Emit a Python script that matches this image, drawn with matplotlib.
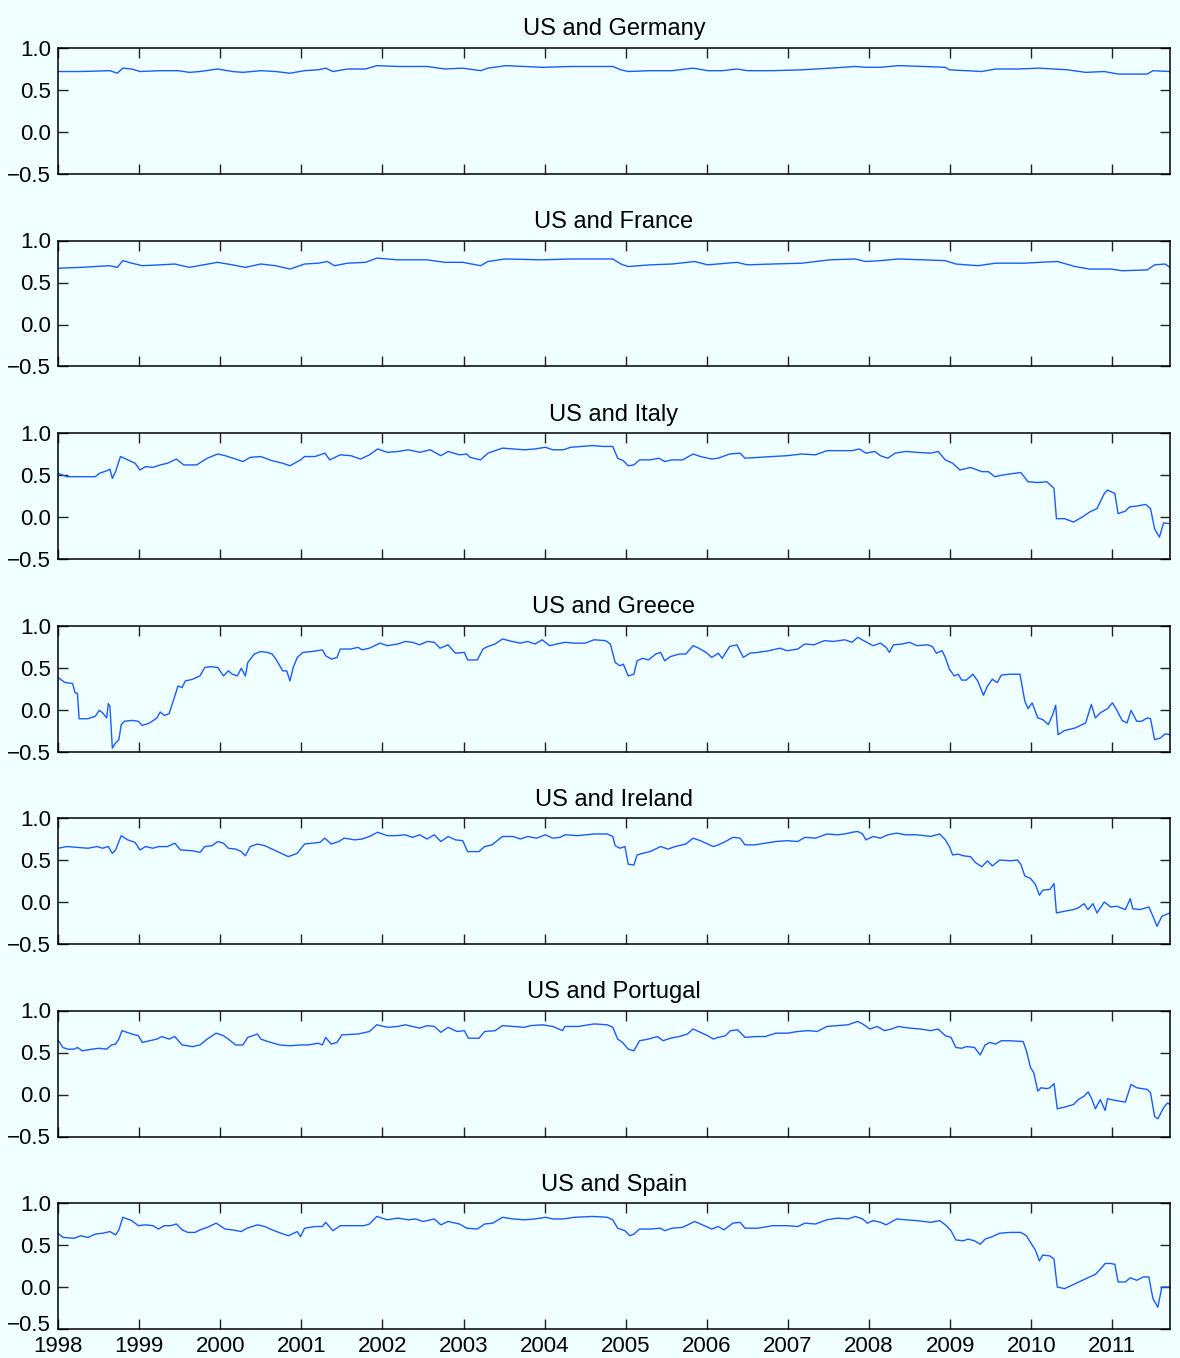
import matplotlib.pyplot as plt
from matplotlib.ticker import FuncFormatter
from matplotlib.transforms import ScaledTranslation

plt.rcParams['font.family'] = ['Liberation Sans', 'DejaVu Sans']

# Weekly correlations with the US; times are years after START
START = 1998
END = 2011.71
year_ticks = list(range(1998, 2012))
y_ticks = [-0.5, 0.0, 0.5, 1.0]

germany_t = [0.00, 0.28, 0.64, 0.73, 0.80, 0.91, 1.01, 1.26, 1.48, 1.62,
             1.75, 1.97, 2.15, 2.28, 2.50, 2.68, 2.86, 3.04, 3.21, 3.30,
             3.39, 3.57, 3.79, 3.93, 4.19, 4.55, 4.77, 4.99, 5.21, 5.30,
             5.52, 5.97, 6.32, 6.84, 6.94, 7.03, 7.30, 7.57, 7.83, 8.01,
             8.19, 8.37, 8.50, 8.81, 9.17, 9.52, 9.83, 9.96, 10.14, 10.36,
             10.67, 10.94, 10.99, 11.20, 11.39, 11.56, 11.83, 12.10, 12.28, 12.45,
             12.67, 12.90, 13.07, 13.43, 13.50, 13.71]
germany_v = [0.72, 0.72, 0.73, 0.70, 0.76, 0.75, 0.72, 0.73, 0.73, 0.71,
             0.72, 0.75, 0.72, 0.71, 0.73, 0.72, 0.70, 0.73, 0.74, 0.76,
             0.72, 0.75, 0.75, 0.79, 0.78, 0.78, 0.75, 0.76, 0.73, 0.76,
             0.79, 0.77, 0.78, 0.78, 0.74, 0.72, 0.73, 0.73, 0.76, 0.73,
             0.73, 0.75, 0.73, 0.73, 0.74, 0.76, 0.78, 0.77, 0.77, 0.79,
             0.78, 0.77, 0.74, 0.73, 0.72, 0.75, 0.75, 0.76, 0.75, 0.74,
             0.71, 0.72, 0.69, 0.69, 0.73, 0.72]

france_t = [0.00, 0.28, 0.64, 0.73, 0.80, 0.91, 1.04, 1.26, 1.44, 1.62,
            1.79, 1.97, 2.15, 2.31, 2.50, 2.68, 2.86, 3.04, 3.21, 3.32,
            3.41, 3.57, 3.79, 3.93, 4.19, 4.55, 4.77, 4.99, 5.21, 5.30,
            5.51, 5.97, 6.32, 6.84, 6.94, 7.03, 7.30, 7.57, 7.85, 8.01,
            8.37, 8.50, 8.81, 9.17, 9.52, 9.83, 9.96, 10.14, 10.36, 10.67,
            10.94, 11.07, 11.34, 11.56, 11.92, 12.10, 12.32, 12.54, 12.72, 12.98,
            13.12, 13.43, 13.52, 13.65, 13.71]
france_v = [0.67, 0.68, 0.70, 0.68, 0.76, 0.73, 0.70, 0.71, 0.72, 0.68,
            0.71, 0.74, 0.71, 0.68, 0.72, 0.70, 0.66, 0.72, 0.73, 0.75,
            0.70, 0.73, 0.74, 0.79, 0.77, 0.77, 0.74, 0.74, 0.70, 0.75,
            0.78, 0.77, 0.78, 0.78, 0.72, 0.69, 0.71, 0.72, 0.75, 0.71,
            0.74, 0.71, 0.72, 0.73, 0.77, 0.78, 0.75, 0.76, 0.78, 0.77,
            0.76, 0.72, 0.70, 0.73, 0.73, 0.74, 0.75, 0.69, 0.66, 0.66,
            0.64, 0.65, 0.71, 0.72, 0.68]

italy_t = [0.00, 0.11, 0.46, 0.51, 0.60, 0.64, 0.67, 0.71, 0.77, 0.86,
           0.95, 1.01, 1.08, 1.17, 1.26, 1.35, 1.46, 1.55, 1.71, 1.84,
           1.97, 2.06, 2.19, 2.28, 2.37, 2.50, 2.64, 2.77, 2.86, 2.99,
           3.04, 3.17, 3.29, 3.35, 3.48, 3.61, 3.73, 3.84, 3.94, 4.06,
           4.19, 4.32, 4.46, 4.59, 4.72, 4.81, 4.95, 5.04, 5.08, 5.21,
           5.30, 5.48, 5.61, 5.75, 5.88, 6.01, 6.10, 6.23, 6.32, 6.46,
           6.59, 6.72, 6.84, 6.90, 6.97, 7.03, 7.10, 7.17, 7.30, 7.41,
           7.48, 7.57, 7.70, 7.83, 7.92, 8.06, 8.14, 8.28, 8.41, 8.47,
           8.63, 8.81, 8.99, 9.17, 9.34, 9.48, 9.65, 9.79, 9.88, 9.96,
           10.07, 10.14, 10.23, 10.32, 10.45, 10.59, 10.76, 10.85, 10.94, 11.03,
           11.12, 11.25, 11.39, 11.47, 11.55, 11.65, 11.87, 11.96, 12.08, 12.19,
           12.26, 12.28, 12.31, 12.41, 12.52, 12.63, 12.72, 12.81, 12.85, 12.90,
           12.94, 13.03, 13.07, 13.16, 13.21, 13.30, 13.41, 13.47, 13.52, 13.58,
           13.63, 13.71]
italy_v = [0.52, 0.48, 0.48, 0.52, 0.55, 0.57, 0.46, 0.54, 0.72, 0.68,
           0.64, 0.56, 0.60, 0.59, 0.62, 0.64, 0.69, 0.62, 0.62, 0.70,
           0.75, 0.73, 0.69, 0.66, 0.71, 0.72, 0.67, 0.64, 0.61, 0.68,
           0.72, 0.72, 0.76, 0.68, 0.74, 0.73, 0.69, 0.74, 0.81, 0.77,
           0.78, 0.80, 0.77, 0.80, 0.73, 0.78, 0.74, 0.75, 0.71, 0.68,
           0.76, 0.82, 0.81, 0.80, 0.81, 0.83, 0.80, 0.80, 0.83, 0.84,
           0.85, 0.84, 0.84, 0.70, 0.67, 0.61, 0.62, 0.68, 0.68, 0.70,
           0.66, 0.68, 0.68, 0.75, 0.72, 0.69, 0.70, 0.75, 0.76, 0.70,
           0.71, 0.72, 0.73, 0.75, 0.74, 0.79, 0.79, 0.79, 0.81, 0.76,
           0.78, 0.73, 0.70, 0.76, 0.78, 0.77, 0.76, 0.78, 0.68, 0.64,
           0.56, 0.59, 0.54, 0.54, 0.48, 0.50, 0.53, 0.42, 0.41, 0.42,
           0.36, 0.34, -0.02, -0.02, -0.06, 0.00, 0.06, 0.10, 0.18, 0.28,
           0.32, 0.28, 0.04, 0.07, 0.12, 0.13, 0.15, 0.10, -0.14, -0.24,
           -0.07, -0.08]

greece_t = [0.00, 0.09, 0.18, 0.21, 0.24, 0.26, 0.37, 0.46, 0.51, 0.55,
            0.60, 0.62, 0.64, 0.67, 0.71, 0.75, 0.78, 0.82, 0.91, 0.99,
            1.04, 1.13, 1.22, 1.26, 1.31, 1.37, 1.42, 1.48, 1.53, 1.57,
            1.66, 1.75, 1.81, 1.88, 1.97, 2.04, 2.10, 2.15, 2.21, 2.26,
            2.31, 2.34, 2.42, 2.50, 2.58, 2.64, 2.70, 2.77, 2.82, 2.86,
            2.90, 2.95, 3.02, 3.13, 3.26, 3.30, 3.37, 3.44, 3.48, 3.61,
            3.70, 3.75, 3.84, 3.97, 4.06, 4.19, 4.28, 4.37, 4.46, 4.55,
            4.64, 4.71, 4.81, 4.90, 5.01, 5.05, 5.17, 5.24, 5.30, 5.39,
            5.48, 5.60, 5.70, 5.79, 5.88, 5.97, 6.06, 6.15, 6.25, 6.37,
            6.50, 6.61, 6.75, 6.81, 6.87, 6.93, 6.97, 7.03, 7.10, 7.14,
            7.21, 7.28, 7.37, 7.43, 7.48, 7.55, 7.66, 7.74, 7.83, 7.90,
            7.99, 8.06, 8.14, 8.19, 8.28, 8.37, 8.45, 8.53, 8.63, 8.77,
            8.90, 8.99, 9.12, 9.21, 9.32, 9.45, 9.56, 9.70, 9.79, 9.86,
            9.95, 10.05, 10.14, 10.21, 10.25, 10.30, 10.41, 10.50, 10.59, 10.72,
            10.78, 10.83, 10.90, 10.94, 10.99, 11.05, 11.10, 11.14, 11.20, 11.28,
            11.34, 11.41, 11.46, 11.52, 11.58, 11.63, 11.74, 11.86, 11.92, 11.96,
            12.01, 12.08, 12.14, 12.21, 12.26, 12.30, 12.33, 12.41, 12.54, 12.67,
            12.74, 12.79, 12.85, 12.94, 13.00, 13.05, 13.12, 13.18, 13.23, 13.30,
            13.36, 13.43, 13.47, 13.52, 13.59, 13.65, 13.71]
greece_v = [0.38, 0.32, 0.31, 0.20, 0.19, -0.11, -0.11, -0.08, -0.01, -0.04,
            -0.10, 0.07, 0.04, -0.46, -0.40, -0.36, -0.18, -0.14, -0.13, -0.14,
            -0.19, -0.16, -0.10, -0.03, -0.07, -0.05, 0.10, 0.28, 0.26, 0.34,
            0.36, 0.40, 0.50, 0.51, 0.50, 0.40, 0.46, 0.42, 0.40, 0.49,
            0.40, 0.56, 0.66, 0.69, 0.68, 0.66, 0.58, 0.46, 0.46, 0.34,
            0.50, 0.62, 0.68, 0.69, 0.71, 0.64, 0.60, 0.62, 0.72, 0.72,
            0.74, 0.71, 0.73, 0.79, 0.76, 0.78, 0.81, 0.80, 0.77, 0.81,
            0.80, 0.73, 0.77, 0.67, 0.68, 0.59, 0.59, 0.72, 0.75, 0.78,
            0.84, 0.81, 0.79, 0.81, 0.78, 0.83, 0.76, 0.78, 0.80, 0.79,
            0.79, 0.83, 0.82, 0.78, 0.56, 0.52, 0.54, 0.40, 0.42, 0.58,
            0.61, 0.59, 0.66, 0.68, 0.58, 0.63, 0.66, 0.66, 0.76, 0.73,
            0.68, 0.62, 0.67, 0.61, 0.75, 0.77, 0.62, 0.67, 0.68, 0.70,
            0.73, 0.70, 0.72, 0.78, 0.77, 0.82, 0.81, 0.83, 0.80, 0.86,
            0.81, 0.76, 0.79, 0.74, 0.68, 0.77, 0.78, 0.80, 0.76, 0.77,
            0.75, 0.67, 0.70, 0.62, 0.48, 0.40, 0.42, 0.35, 0.35, 0.42,
            0.34, 0.17, 0.28, 0.36, 0.32, 0.41, 0.42, 0.42, 0.10, 0.01,
            0.08, -0.10, -0.12, -0.18, -0.07, 0.05, -0.30, -0.25, -0.22, -0.16,
            0.06, -0.10, -0.04, 0.01, 0.08, 0.00, -0.13, -0.16, -0.01, -0.14,
            -0.14, -0.10, -0.11, -0.36, -0.34, -0.29, -0.30]

ireland_t = [0.00, 0.11, 0.24, 0.37, 0.48, 0.55, 0.62, 0.67, 0.71, 0.78,
             0.86, 0.95, 1.01, 1.08, 1.17, 1.24, 1.35, 1.44, 1.51, 1.66,
             1.75, 1.81, 1.90, 1.97, 2.04, 2.10, 2.19, 2.26, 2.31, 2.37,
             2.46, 2.55, 2.64, 2.75, 2.84, 2.95, 2.99, 3.04, 3.14, 3.23,
             3.29, 3.37, 3.46, 3.53, 3.66, 3.75, 3.84, 3.94, 4.06, 4.17,
             4.28, 4.37, 4.46, 4.55, 4.64, 4.72, 4.81, 4.90, 4.99, 5.05,
             5.19, 5.26, 5.35, 5.48, 5.61, 5.70, 5.79, 5.90, 6.01, 6.10,
             6.19, 6.25, 6.41, 6.61, 6.77, 6.84, 6.87, 6.93, 6.99, 7.03,
             7.10, 7.14, 7.21, 7.30, 7.43, 7.52, 7.61, 7.74, 7.83, 7.92,
             8.01, 8.08, 8.14, 8.23, 8.32, 8.41, 8.47, 8.59, 8.72, 8.85,
             8.99, 9.12, 9.21, 9.34, 9.48, 9.61, 9.70, 9.79, 9.86, 9.92,
             9.96, 10.05, 10.14, 10.23, 10.34, 10.45, 10.59, 10.76, 10.87, 10.94,
             10.99, 11.03, 11.10, 11.16, 11.25, 11.31, 11.39, 11.46, 11.52, 11.61,
             11.74, 11.83, 11.87, 11.92, 11.99, 12.05, 12.10, 12.14, 12.23, 12.28,
             12.31, 12.41, 12.52, 12.58, 12.65, 12.70, 12.76, 12.81, 12.90, 12.98,
             13.05, 13.16, 13.22, 13.25, 13.34, 13.45, 13.50, 13.55, 13.61, 13.71]
ireland_v = [0.64, 0.66, 0.65, 0.64, 0.66, 0.64, 0.66, 0.58, 0.62, 0.79,
             0.74, 0.71, 0.62, 0.66, 0.64, 0.66, 0.66, 0.70, 0.62, 0.61,
             0.59, 0.66, 0.67, 0.72, 0.70, 0.64, 0.63, 0.60, 0.55, 0.66,
             0.69, 0.67, 0.63, 0.58, 0.54, 0.58, 0.63, 0.69, 0.70, 0.71,
             0.76, 0.69, 0.72, 0.76, 0.74, 0.75, 0.78, 0.83, 0.79, 0.79,
             0.80, 0.77, 0.80, 0.75, 0.80, 0.72, 0.78, 0.74, 0.73, 0.60,
             0.60, 0.66, 0.68, 0.78, 0.78, 0.75, 0.78, 0.76, 0.80, 0.76,
             0.77, 0.80, 0.79, 0.81, 0.81, 0.78, 0.67, 0.64, 0.66, 0.45,
             0.44, 0.56, 0.58, 0.60, 0.66, 0.63, 0.66, 0.69, 0.76, 0.73,
             0.69, 0.66, 0.68, 0.72, 0.77, 0.76, 0.68, 0.68, 0.70, 0.72,
             0.73, 0.72, 0.77, 0.76, 0.81, 0.80, 0.81, 0.83, 0.84, 0.81,
             0.74, 0.78, 0.76, 0.80, 0.82, 0.80, 0.80, 0.78, 0.81, 0.74,
             0.66, 0.56, 0.57, 0.55, 0.54, 0.47, 0.42, 0.49, 0.43, 0.50,
             0.49, 0.50, 0.45, 0.31, 0.28, 0.21, 0.08, 0.14, 0.15, 0.22,
             -0.13, -0.11, -0.09, -0.07, -0.02, -0.09, -0.02, -0.13, 0.00, -0.06,
             -0.05, -0.09, 0.04, -0.08, -0.09, -0.06, -0.17, -0.29, -0.17, -0.13]

portugal_t = [0.00, 0.06, 0.12, 0.20, 0.24, 0.30, 0.42, 0.51, 0.60, 0.66,
              0.71, 0.75, 0.79, 0.91, 0.99, 1.04, 1.13, 1.22, 1.28, 1.37,
              1.44, 1.53, 1.66, 1.75, 1.84, 1.95, 2.04, 2.10, 2.19, 2.28,
              2.34, 2.46, 2.50, 2.59, 2.73, 2.86, 2.99, 3.08, 3.21, 3.26,
              3.30, 3.37, 3.44, 3.50, 3.70, 3.84, 3.93, 4.06, 4.19, 4.28,
              4.37, 4.46, 4.55, 4.64, 4.72, 4.81, 4.92, 5.01, 5.06, 5.19,
              5.26, 5.39, 5.48, 5.61, 5.75, 5.83, 5.97, 6.10, 6.22, 6.25,
              6.41, 6.61, 6.77, 6.84, 6.90, 6.96, 7.03, 7.10, 7.17, 7.28,
              7.39, 7.46, 7.55, 7.66, 7.76, 7.83, 7.92, 8.01, 8.08, 8.14,
              8.23, 8.29, 8.38, 8.47, 8.61, 8.72, 8.85, 8.99, 9.12, 9.25,
              9.36, 9.48, 9.61, 9.74, 9.86, 9.92, 10.01, 10.10, 10.19, 10.28,
              10.36, 10.50, 10.63, 10.76, 10.85, 10.94, 11.01, 11.07, 11.14, 11.20,
              11.30, 11.37, 11.43, 11.49, 11.56, 11.63, 11.74, 11.90, 11.94, 11.99,
              12.03, 12.08, 12.12, 12.19, 12.23, 12.28, 12.32, 12.41, 12.52, 12.58,
              12.65, 12.70, 12.74, 12.79, 12.85, 12.91, 12.94, 13.03, 13.16, 13.23,
              13.30, 13.43, 13.47, 13.52, 13.56, 13.63, 13.68, 13.71]
portugal_v = [0.65, 0.56, 0.54, 0.54, 0.56, 0.52, 0.54, 0.55, 0.54, 0.59,
              0.60, 0.66, 0.76, 0.72, 0.70, 0.62, 0.64, 0.66, 0.69, 0.66,
              0.69, 0.59, 0.57, 0.59, 0.66, 0.73, 0.70, 0.66, 0.59, 0.59,
              0.68, 0.72, 0.66, 0.63, 0.59, 0.58, 0.59, 0.59, 0.61, 0.59,
              0.68, 0.60, 0.62, 0.71, 0.72, 0.75, 0.83, 0.80, 0.81, 0.83,
              0.81, 0.79, 0.82, 0.81, 0.74, 0.80, 0.75, 0.76, 0.67, 0.67,
              0.75, 0.76, 0.82, 0.81, 0.80, 0.82, 0.83, 0.81, 0.76, 0.81,
              0.81, 0.84, 0.83, 0.80, 0.66, 0.62, 0.54, 0.52, 0.64, 0.66,
              0.69, 0.64, 0.67, 0.69, 0.72, 0.78, 0.74, 0.70, 0.66, 0.68,
              0.70, 0.76, 0.77, 0.68, 0.69, 0.69, 0.73, 0.73, 0.75, 0.76,
              0.75, 0.81, 0.82, 0.83, 0.87, 0.84, 0.78, 0.81, 0.76, 0.78,
              0.81, 0.79, 0.78, 0.76, 0.78, 0.70, 0.68, 0.56, 0.55, 0.57,
              0.56, 0.47, 0.59, 0.62, 0.60, 0.64, 0.64, 0.63, 0.52, 0.32,
              0.26, 0.04, 0.08, 0.07, 0.08, 0.13, -0.17, -0.15, -0.12, -0.06,
              -0.02, 0.03, -0.04, -0.17, -0.06, -0.19, -0.05, -0.07, -0.09, 0.12,
              0.08, 0.06, 0.02, -0.26, -0.29, -0.16, -0.10, -0.12]

spain_t = [0.00, 0.06, 0.20, 0.28, 0.37, 0.46, 0.55, 0.64, 0.71, 0.75,
           0.80, 0.91, 0.99, 1.08, 1.17, 1.24, 1.31, 1.39, 1.46, 1.53,
           1.60, 1.69, 1.75, 1.84, 1.95, 2.06, 2.15, 2.26, 2.33, 2.46,
           2.55, 2.64, 2.75, 2.84, 2.95, 2.99, 3.04, 3.17, 3.26, 3.30,
           3.39, 3.48, 3.66, 3.77, 3.84, 3.93, 4.06, 4.19, 4.32, 4.41,
           4.50, 4.64, 4.72, 4.81, 4.95, 5.04, 5.17, 5.26, 5.36, 5.48,
           5.61, 5.75, 5.88, 6.01, 6.10, 6.23, 6.37, 6.59, 6.77, 6.84,
           6.90, 6.99, 7.05, 7.10, 7.17, 7.30, 7.43, 7.48, 7.57, 7.70,
           7.85, 7.97, 8.06, 8.14, 8.21, 8.32, 8.41, 8.47, 8.63, 8.81,
           8.99, 9.12, 9.21, 9.34, 9.48, 9.61, 9.74, 9.83, 9.92, 9.98,
           10.05, 10.14, 10.21, 10.34, 10.45, 10.59, 10.76, 10.87, 10.94, 11.01,
           11.07, 11.16, 11.22, 11.30, 11.37, 11.43, 11.52, 11.61, 11.74, 11.87,
           11.94, 12.01, 12.05, 12.10, 12.14, 12.23, 12.28, 12.32, 12.41, 12.52,
           12.63, 12.72, 12.79, 12.85, 12.91, 12.98, 13.03, 13.07, 13.16, 13.22,
           13.30, 13.38, 13.45, 13.47, 13.50, 13.56, 13.61, 13.71]
spain_v = [0.64, 0.59, 0.58, 0.61, 0.59, 0.63, 0.64, 0.66, 0.62, 0.68,
           0.83, 0.79, 0.73, 0.74, 0.73, 0.69, 0.73, 0.73, 0.75, 0.68,
           0.65, 0.65, 0.68, 0.71, 0.76, 0.69, 0.68, 0.66, 0.70, 0.74,
           0.72, 0.68, 0.64, 0.61, 0.66, 0.60, 0.70, 0.72, 0.72, 0.77,
           0.67, 0.73, 0.73, 0.73, 0.75, 0.84, 0.80, 0.82, 0.80, 0.81,
           0.78, 0.81, 0.74, 0.78, 0.75, 0.70, 0.69, 0.75, 0.76, 0.83,
           0.81, 0.80, 0.81, 0.83, 0.81, 0.81, 0.83, 0.84, 0.83, 0.80,
           0.70, 0.67, 0.61, 0.63, 0.69, 0.69, 0.70, 0.67, 0.70, 0.71,
           0.78, 0.73, 0.69, 0.72, 0.68, 0.76, 0.77, 0.70, 0.70, 0.73,
           0.73, 0.72, 0.76, 0.75, 0.80, 0.82, 0.81, 0.84, 0.81, 0.76,
           0.79, 0.77, 0.74, 0.81, 0.80, 0.79, 0.77, 0.79, 0.74, 0.67,
           0.56, 0.55, 0.57, 0.55, 0.51, 0.57, 0.60, 0.64, 0.65, 0.65,
           0.61, 0.50, 0.44, 0.31, 0.38, 0.37, 0.33, 0.00, -0.02, 0.03,
           0.08, 0.12, 0.15, 0.21, 0.28, 0.28, 0.27, 0.06, 0.06, 0.11,
           0.08, 0.12, 0.12, 0.01, -0.14, -0.24, 0.00, 0.00]

panels = [
    ("US and Germany", germany_t, germany_v),
    ("US and France", france_t, france_v),
    ("US and Italy", italy_t, italy_v),
    ("US and Greece", greece_t, greece_v),
    ("US and Ireland", ireland_t, ireland_v),
    ("US and Portugal", portugal_t, portugal_v),
    ("US and Spain", spain_t, spain_v),
]

BG = '#f0ffff'
LINE = '#1a5cff'
W, H = 1180, 1358

fig = plt.figure(figsize=(W / 100, H / 100), dpi=100, facecolor=BG)
minus = FuncFormatter(lambda y, _: f"{y:.1f}".replace('-', '\u2212'))

for i, (title, t, v) in enumerate(panels):
    top = 48 + i * 192.5
    ax = fig.add_axes([58 / W, 1 - (top + 126) / H, 1112 / W, 126 / H])
    ax.set_facecolor(BG)
    ax.plot([START + x for x in t], v, color=LINE, lw=1.0)

    ax.set_xlim(START, END)
    ax.set_ylim(-0.5, 1.0)
    ax.set_xticks(year_ticks)
    ax.set_yticks(y_ticks)
    ax.yaxis.set_major_formatter(minus)
    ax.tick_params(direction='in', top=True, right=True, length=7, width=1,
                   colors='#222222', labelcolor='black')
    ax.tick_params(axis='y', labelsize=16, pad=5)
    ax.tick_params(axis='x', labelsize=16, pad=5)
    if i < len(panels) - 1:
        ax.tick_params(labelbottom=False)
    else:
        # lift the lowest y label a touch so it clears the first year label
        low = ax.yaxis.get_major_ticks()[0].label1
        low.set_transform(low.get_transform()
                          + ScaledTranslation(0, 4 / 72, fig.dpi_scale_trans))
    for s in ax.spines.values():
        s.set_linewidth(1.1)
        s.set_color('black')
    ax.set_title(title, fontsize=17, pad=9)

fig.savefig('out.png', dpi=100, facecolor=BG)
